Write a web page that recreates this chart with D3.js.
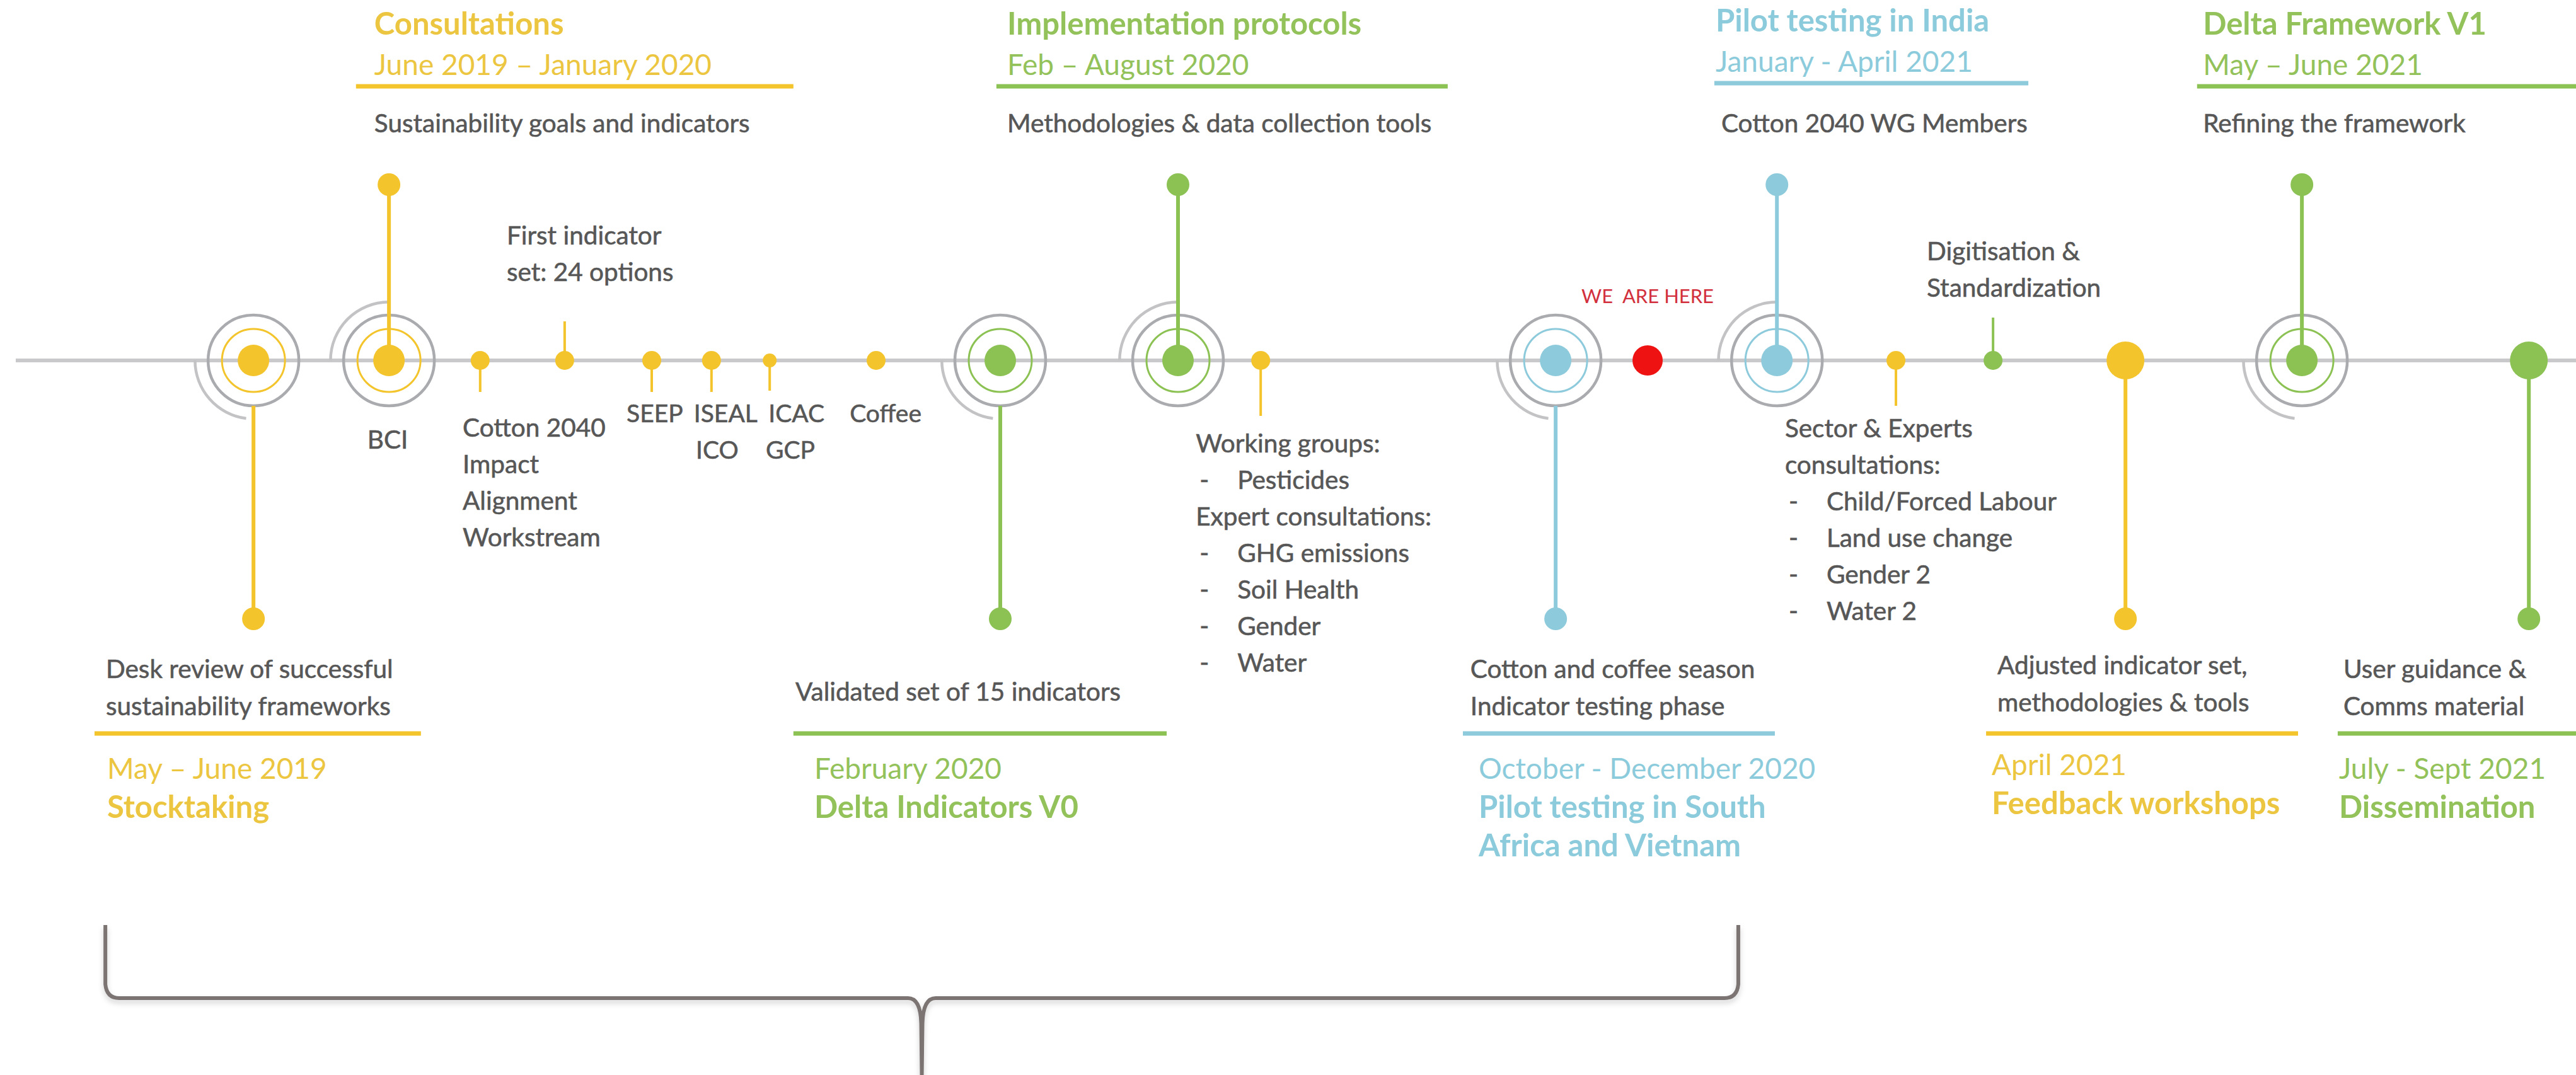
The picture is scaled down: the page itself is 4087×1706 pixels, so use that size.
<!DOCTYPE html>
<html>
<head>
<meta charset="utf-8">
<script src="https://cdn.jsdelivr.net/npm/d3@7"></script>
<style>
  body { margin: 0; background: #fff; }
  svg { display: block; }
  text { font-family: Lato, "Open Sans", sans-serif; }
</style>
</head>
<body>
<div id="chart"></div>
<script>
/* canvas size */
const W = 4087, H = 1706;

/* ---------- data ---------- */
/* positions are in timeline units (0 = left edge, 100 = right edge) */

// ringed milestones on the line
const milestonePos   = [9.84, 15.10, 38.83, 45.73, 60.39, 68.98, 89.36];
const milestonePhase = ["yellow", "yellow", "green", "green", "blue", "blue", "green"];
const milestoneStem  = ["down", "up", "down", "up", "down", "up", "up"];
const milestoneArc   = ["lower", "upper", "lower", "upper", "lower", "upper", "lower"];

// plain dots on the line
const dotPos   = [18.64, 21.92, 25.30, 27.62, 29.88, 34.01, 48.94, 73.60, 77.37, 82.51, 98.17];
const dotPhase = ["yellow", "yellow", "yellow", "yellow", "yellow", "yellow", "yellow", "yellow", "green", "yellow", "green"];
const dotKind  = ["pin", "pin", "pin", "pin", "tiny", "pin", "pin", "pin", "pin", "big", "big"];
const dotStem  = ["down", "up", "down", "down", "down", "none", "down", "down", "up", "down", "down"];

// "we are here" marker
const herePos = 63.96;
const hereLabel = "WE  ARE HERE";

// cards above the line
const topTitle = ["Consultations", "Implementation protocols", "Pilot testing in India", "Delta Framework V1"];
const topDates = ["June 2019 – January 2020", "Feb – August 2020", "January - April 2021", "May – June 2021"];
const topDesc  = ["Sustainability goals and indicators", "Methodologies & data collection tools", "Cotton 2040 WG Members", "Refining the framework"];
const topPhase = ["yellow", "green", "blue", "green"];
const topAt    = [14.53, 39.10, 66.60, 85.52];
const topRule  = [[13.82, 30.80], [38.68, 56.20], [66.55, 78.74], [85.29, 100.5]];

// cards below the line
const botDesc  = [["Desk review of successful", "sustainability frameworks"],
                  ["Validated set of 15 indicators"],
                  ["Cotton and coffee season", "Indicator testing phase"],
                  ["Adjusted indicator set,", "methodologies & tools"],
                  ["User guidance &", "Comms material"]];
const botDates = ["May – June 2019", "February 2020", "October - December 2020", "April 2021", "July - Sept 2021"];
const botName  = [["Stocktaking"], ["Delta Indicators V0"], ["Pilot testing in South", "Africa and Vietnam"],
                  ["Feedback workshops"], ["Dissemination"]];
const botPhase = ["yellow", "green", "blue", "yellow", "green"];
const botDescAt = [4.11, 30.88, 57.08, 77.54, 90.97];
const botDateAt = [4.16, 31.61, 57.40, 77.32, 90.80];
const botRule   = [[3.67, 16.34], [30.80, 45.29], [56.79, 68.90], [77.10, 89.21], [90.75, 100.5]];

// small notes next to the dots
const noteLines  = [["BCI"], ["Cotton 2040", "Impact", "Alignment", "Workstream"], ["First indicator", "set: 24 options"],
                    ["SEEP"], ["ISEAL"], ["ICAC"], ["ICO"], ["GCP"], ["Coffee"],
                    ["Working groups:", "- Pesticides", "Expert consultations:", "- GHG emissions", "- Soil Health", "- Gender", "- Water"],
                    ["Sector & Experts", "consultations:", "- Child/Forced Labour", "- Land use change", "- Gender 2", "- Water 2"],
                    ["Digitisation &", "Standardization"]];
const noteAt     = [15.05, 17.96, 19.67, 25.42, 28.17, 30.92, 27.84, 30.68, 34.38, 46.42, 69.29, 74.80];
const noteAnchor = ["middle", "start", "start", "middle", "middle", "middle", "middle", "middle", "middle", "start", "start", "start"];

// brace under the first phases
const braceSpan = [4.09, 67.48];

/* ---------- look ---------- */
const phaseColor = { yellow: "#f3c42b", green: "#8cc153", blue: "#8dcadb" };
const phaseInk   = { yellow: "#ecc640", green: "#93c25b", blue: "#8ccbdb" };
const grey = "#575757";
const fsBody = 40.5, fsDate = 46, fsTitle = 49, fsShort = 39;

const axisY = 572;
const stemTop = 293, stemBottom = 982;
const noteTop = [712, 693, 388, 670, 670, 670, 728, 728, 670, 718, 694, 413]; // first baseline of each note
const noteStep = 58;
const minorStemLen = [50, 62, 50, 50, 48, 0, 88, 72, 68, 0, 0];
const dotR = { pin: 15, tiny: 11, big: 30 };

/* ---------- scales ---------- */
const x = d3.scaleLinear().domain([0, 100]).range([0, W]);

const svg = d3.select("#chart").append("svg")
    .attr("width", W).attr("height", H);

const defs = svg.append("defs");
defs.append("filter").attr("id", "soft")
    .attr("x", "-5%").attr("y", "-50%").attr("width", "110%").attr("height", "200%")
  .append("feDropShadow")
    .attr("dx", 0).attr("dy", 5).attr("stdDeviation", 4)
    .attr("flood-color", "#000").attr("flood-opacity", 0.18);

/* body text helper: a hair of stroke to get closer to the heavier original face */
const bodyText = (sel, size) => sel.attr("font-size", size || fsBody).attr("fill", grey)
    .attr("stroke", grey).attr("stroke-width", 0.6);

/* main line */
svg.append("line")
    .attr("x1", 25).attr("x2", W).attr("y1", axisY).attr("y2", axisY)
    .attr("stroke", "#c9c9cb").attr("stroke-width", 6);

/* milestones: arcs, rings, stems, dots */
const milestones = milestonePos.map((p, i) => ({ p, phase: milestonePhase[i], stem: milestoneStem[i], arc: milestoneArc[i] }));

const quarterArc = d3.arc().innerRadius(90.5).outerRadius(95);
svg.selectAll(".swirl")
  .data(milestones)
  .join("path")
    .attr("class", "swirl")
    .attr("transform", d => `translate(${x(d.p)},${axisY})`)
    .attr("fill", "#c3c3c5")
    .attr("d", d => d.arc === "upper"
        ? quarterArc({ startAngle: -Math.PI / 2, endAngle: 0 })
        : quarterArc({ startAngle: Math.PI * 1.04, endAngle: Math.PI * 1.5 }));

svg.selectAll(".outer-ring")
  .data(milestones)
  .join("circle")
    .attr("class", "outer-ring")
    .attr("cx", d => x(d.p)).attr("cy", axisY).attr("r", 72)
    .attr("fill", "none").attr("stroke", "#aaabaf").attr("stroke-width", 4.5);

svg.selectAll(".inner-ring")
  .data(milestones)
  .join("circle")
    .attr("class", "inner-ring")
    .attr("cx", d => x(d.p)).attr("cy", axisY).attr("r", 50)
    .attr("fill", "none").attr("stroke", d => phaseColor[d.phase]).attr("stroke-width", 3);

svg.selectAll(".m-stem")
  .data(milestones)
  .join("line")
    .attr("class", "m-stem")
    .attr("x1", d => x(d.p)).attr("x2", d => x(d.p))
    .attr("y1", d => d.stem === "up" ? axisY : axisY + 72)
    .attr("y2", d => d.stem === "up" ? stemTop : stemBottom)
    .attr("stroke", d => phaseColor[d.phase]).attr("stroke-width", 6);

svg.selectAll(".m-end")
  .data(milestones)
  .join("circle")
    .attr("class", "m-end")
    .attr("cx", d => x(d.p)).attr("cy", d => d.stem === "up" ? stemTop : stemBottom).attr("r", 18)
    .attr("fill", d => phaseColor[d.phase]);

svg.selectAll(".m-dot")
  .data(milestones)
  .join("circle")
    .attr("class", "m-dot")
    .attr("cx", d => x(d.p)).attr("cy", axisY).attr("r", 25)
    .attr("fill", d => phaseColor[d.phase]);

/* plain dots */
const dots = dotPos.map((p, i) => ({ p, phase: dotPhase[i], kind: dotKind[i], stem: dotStem[i], len: minorStemLen[i] }));

svg.selectAll(".d-stem")
  .data(dots.filter(d => d.stem !== "none"))
  .join("line")
    .attr("class", "d-stem")
    .attr("x1", d => x(d.p)).attr("x2", d => x(d.p))
    .attr("y1", axisY)
    .attr("y2", d => d.kind === "big" ? stemBottom : (d.stem === "up" ? axisY - d.len : axisY + d.len))
    .attr("stroke", d => phaseColor[d.phase])
    .attr("stroke-width", d => d.kind === "big" ? 6 : 4);

svg.selectAll(".d-end")
  .data(dots.filter(d => d.kind === "big"))
  .join("circle")
    .attr("class", "d-end")
    .attr("cx", d => x(d.p)).attr("cy", stemBottom).attr("r", 18)
    .attr("fill", d => phaseColor[d.phase]);

svg.selectAll(".d-dot")
  .data(dots)
  .join("circle")
    .attr("class", "d-dot")
    .attr("cx", d => x(d.p)).attr("cy", axisY).attr("r", d => dotR[d.kind])
    .attr("fill", d => phaseColor[d.phase]);

/* we are here */
svg.append("circle")
    .attr("cx", x(herePos)).attr("cy", axisY).attr("r", 24)
    .attr("fill", "#ee1212");
svg.append("text")
    .attr("x", x(herePos)).attr("y", 481)
    .attr("text-anchor", "middle")
    .attr("font-size", 31).attr("fill", "#d2303c")
    .style("white-space", "pre")
    .text(hereLabel);

/* cards above */
topTitle.forEach((t, i) => {
    const g = svg.append("g");
    const ink = phaseInk[topPhase[i]];
    const shift = topPhase[i] === "blue" ? -5 : 0;
    g.append("text").attr("x", x(topAt[i])).attr("y", 55 + shift)
        .attr("font-size", fsTitle).attr("font-weight", 700).attr("fill", ink).text(t);
    g.append("text").attr("x", x(topAt[i])).attr("y", 119 + shift)
        .attr("font-size", fsDate).attr("fill", ink).text(topDates[i]);
    g.append("line")
        .attr("x1", x(topRule[i][0])).attr("x2", x(topRule[i][1]))
        .attr("y1", 137 + shift).attr("y2", 137 + shift)
        .attr("stroke", phaseColor[topPhase[i]]).attr("stroke-width", 7);
    g.append("text").attr("x", x(topAt[i]) + (topPhase[i] === "blue" ? 9 : 0)).attr("y", 210)
        .call(bodyText).text(topDesc[i]);
});

/* cards below */
botDesc.forEach((lines, i) => {
    const g = svg.append("g");
    const ink = phaseInk[botPhase[i]];
    const shift = i === 3 ? -6 : 0;
    const first = lines.length === 1 ? 1112 : 1076;
    lines.forEach((l, k) => {
        g.append("text").attr("x", x(botDescAt[i])).attr("y", first + k * 59 + shift)
            .call(bodyText).text(l);
    });
    g.append("line")
        .attr("x1", x(botRule[i][0])).attr("x2", x(botRule[i][1]))
        .attr("y1", 1164).attr("y2", 1164)
        .attr("stroke", phaseColor[botPhase[i]]).attr("stroke-width", 7);
    g.append("text").attr("x", x(botDateAt[i])).attr("y", 1236 + shift)
        .attr("font-size", fsDate).attr("fill", ink).text(botDates[i]);
    botName[i].forEach((l, k) => {
        g.append("text").attr("x", x(botDateAt[i])).attr("y", 1298 + k * 61 + shift)
            .attr("font-size", fsTitle).attr("font-weight", 700).attr("fill", ink).text(l);
    });
});

/* notes */
noteLines.forEach((lines, i) => {
    const size = lines.length === 1 && i > 0 ? fsShort : fsBody;
    lines.forEach((l, k) => {
        const y = noteTop[i] + k * noteStep;
        if (l.startsWith("- ")) {
            svg.append("text").attr("x", x(noteAt[i]) + 6).attr("y", y)
                .call(bodyText).text("-");
            svg.append("text").attr("x", x(noteAt[i]) + 66).attr("y", y)
                .call(bodyText).text(l.slice(2));
        } else {
            svg.append("text").attr("x", x(noteAt[i])).attr("y", y)
                .attr("text-anchor", noteAnchor[i])
                .call(bodyText, size).text(l);
        }
    });
});

/* brace */
const bL = x(braceSpan[0]), bR = x(braceSpan[1]), bM = (bL + bR) / 2;
const bTop = 1468, bMid = 1584, rr = 22;
const brace = d3.path();
brace.moveTo(bL, bTop);
brace.lineTo(bL, bMid - rr);
brace.quadraticCurveTo(bL + 2, bMid, bL + rr, bMid);
brace.lineTo(bM - rr, bMid);
brace.quadraticCurveTo(bM - 2, bMid, bM - 1, bMid + 40);
brace.lineTo(bM, H);
brace.moveTo(bR, bTop);
brace.lineTo(bR, bMid - rr);
brace.quadraticCurveTo(bR - 2, bMid, bR - rr, bMid);
brace.lineTo(bM + rr, bMid);
brace.quadraticCurveTo(bM + 2, bMid, bM + 1, bMid + 40);
brace.lineTo(bM, H);
svg.append("path")
    .attr("d", brace.toString())
    .attr("fill", "none").attr("stroke", "#7b7373").attr("stroke-width", 6)
    .attr("filter", "url(#soft)");
</script>
</body>
</html>
